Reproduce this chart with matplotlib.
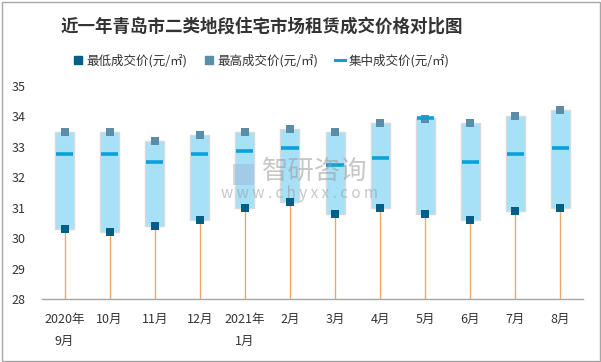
import matplotlib
matplotlib.use("Agg")
import matplotlib.pyplot as plt
from matplotlib.lines import Line2D
from matplotlib.patches import Rectangle
import numpy as np

plt.rcParams['font.family'] = ['Noto Sans CJK SC', 'DejaVu Sans']

categories = ['2020年\n9月', '10月', '11月', '12月', '2021年\n1月', '2月', '3月', '4月', '5月', '6月', '7月', '8月']
low_price = [30.3, 30.2, 30.4, 30.6, 31.0, 31.2, 30.8, 31.0, 30.8, 30.6, 30.9, 31.0]
high_price = [33.5, 33.5, 33.2, 33.4, 33.5, 33.6, 33.5, 33.8, 33.9, 33.8, 34.0, 34.2]
box_top = [33.5, 33.5, 33.2, 33.4, 33.5, 33.6, 33.5, 33.8, 33.95, 33.8, 34.0, 34.2]
mid_price = [32.75, 32.75, 32.5, 32.75, 32.85, 32.95, 32.4, 32.65, 33.95, 32.5, 32.75, 32.95]
yticks = [28, 29, 30, 31, 32, 33, 34, 35]

W, H = 601, 362
fig = plt.figure(figsize=(W / 100, H / 100), dpi=100)
ax = fig.add_axes([42 / W, 1 - 299 / H, (583 - 42) / W, (299 - 86) / H])

x = np.arange(len(categories))
low = np.array(low_price)
top = np.array(box_top)

ax.vlines(x, 28, low, color='#F0A868', lw=1.0, zorder=1)
ax.bar(x, top - low, bottom=low, width=0.42, color='#A7E1F8', edgecolor='#D9D9D9', lw=1.0, zorder=2)
ax.scatter(x, high_price, marker='s', s=28, color='#5B8CA8', zorder=3, linewidths=0)
ax.scatter(x, low_price, marker='s', s=28, color='#005F86', zorder=3, linewidths=0)
ax.hlines(mid_price, x - 0.19, x + 0.19, color='#0BA0DA', lw=2.6, zorder=4)

ax.set_xlim(-0.5, len(categories) - 0.5)
ax.set_ylim(28, 35)
ax.set_yticks(yticks)
ax.set_yticklabels([str(v) for v in yticks])
ax.set_xticks(x)
ax.set_xticklabels(categories, linespacing=1.9)
ax.tick_params(axis='both', length=0, labelsize=9, colors='#333333')
ax.tick_params(axis='x', pad=10)
ax.tick_params(axis='y', pad=12)
for s in ['top', 'right', 'left']:
    ax.spines[s].set_visible(False)
ax.spines['bottom'].set_color('#A6A6A6')
ax.spines['bottom'].set_linewidth(1.0)

# watermark
fig.text(315 / W, 1 - 171 / H, '智研咨询', fontsize=19, color='#9A9A9A', alpha=0.55,
         ha='center', va='center', zorder=10)
fig.text(300 / W, 1 - 194 / H, 'w w w . c h y x x . c o m', fontsize=11, color='#9A9A9A', alpha=0.55,
         ha='center', va='center', zorder=10)
fig.patches.append(Rectangle((233 / W, 1 - 185 / H), 21 / W, 21 / H, transform=fig.transFigure,
                             facecolor='#9DB6D6', alpha=0.5, edgecolor='none', zorder=10))

fig.text(262 / W, 1 - 27 / H, '近一年青岛市二类地段住宅市场租赁成交价格对比图', fontsize=12.6,
         fontweight='bold', color='#333333', ha='center', va='center')

handles = [
    Line2D([], [], marker='s', ls='none', color='#005F86', markersize=5.5),
    Line2D([], [], marker='s', ls='none', color='#5B8CA8', markersize=5.5),
    Line2D([], [], color='#0BA0DA', lw=2.2),
]
labels = ['最低成交价(元/㎡)', '最高成交价(元/㎡)', '集中成交价(元/㎡)']
fig.legend(handles, labels, loc='center', bbox_to_anchor=(261 / W, 1 - 61 / H), ncol=3,
           frameon=False, fontsize=9, handlelength=0.8, handletextpad=0.3, columnspacing=1.3,
           labelcolor='#333333')

fig.patches.append(Rectangle((1.5 / W, 1.5 / H), (W - 3) / W, (H - 3) / H, transform=fig.transFigure,
                             facecolor='none', edgecolor='#A6A6A6', lw=1.0))

fig.savefig('out.png', dpi=100)
